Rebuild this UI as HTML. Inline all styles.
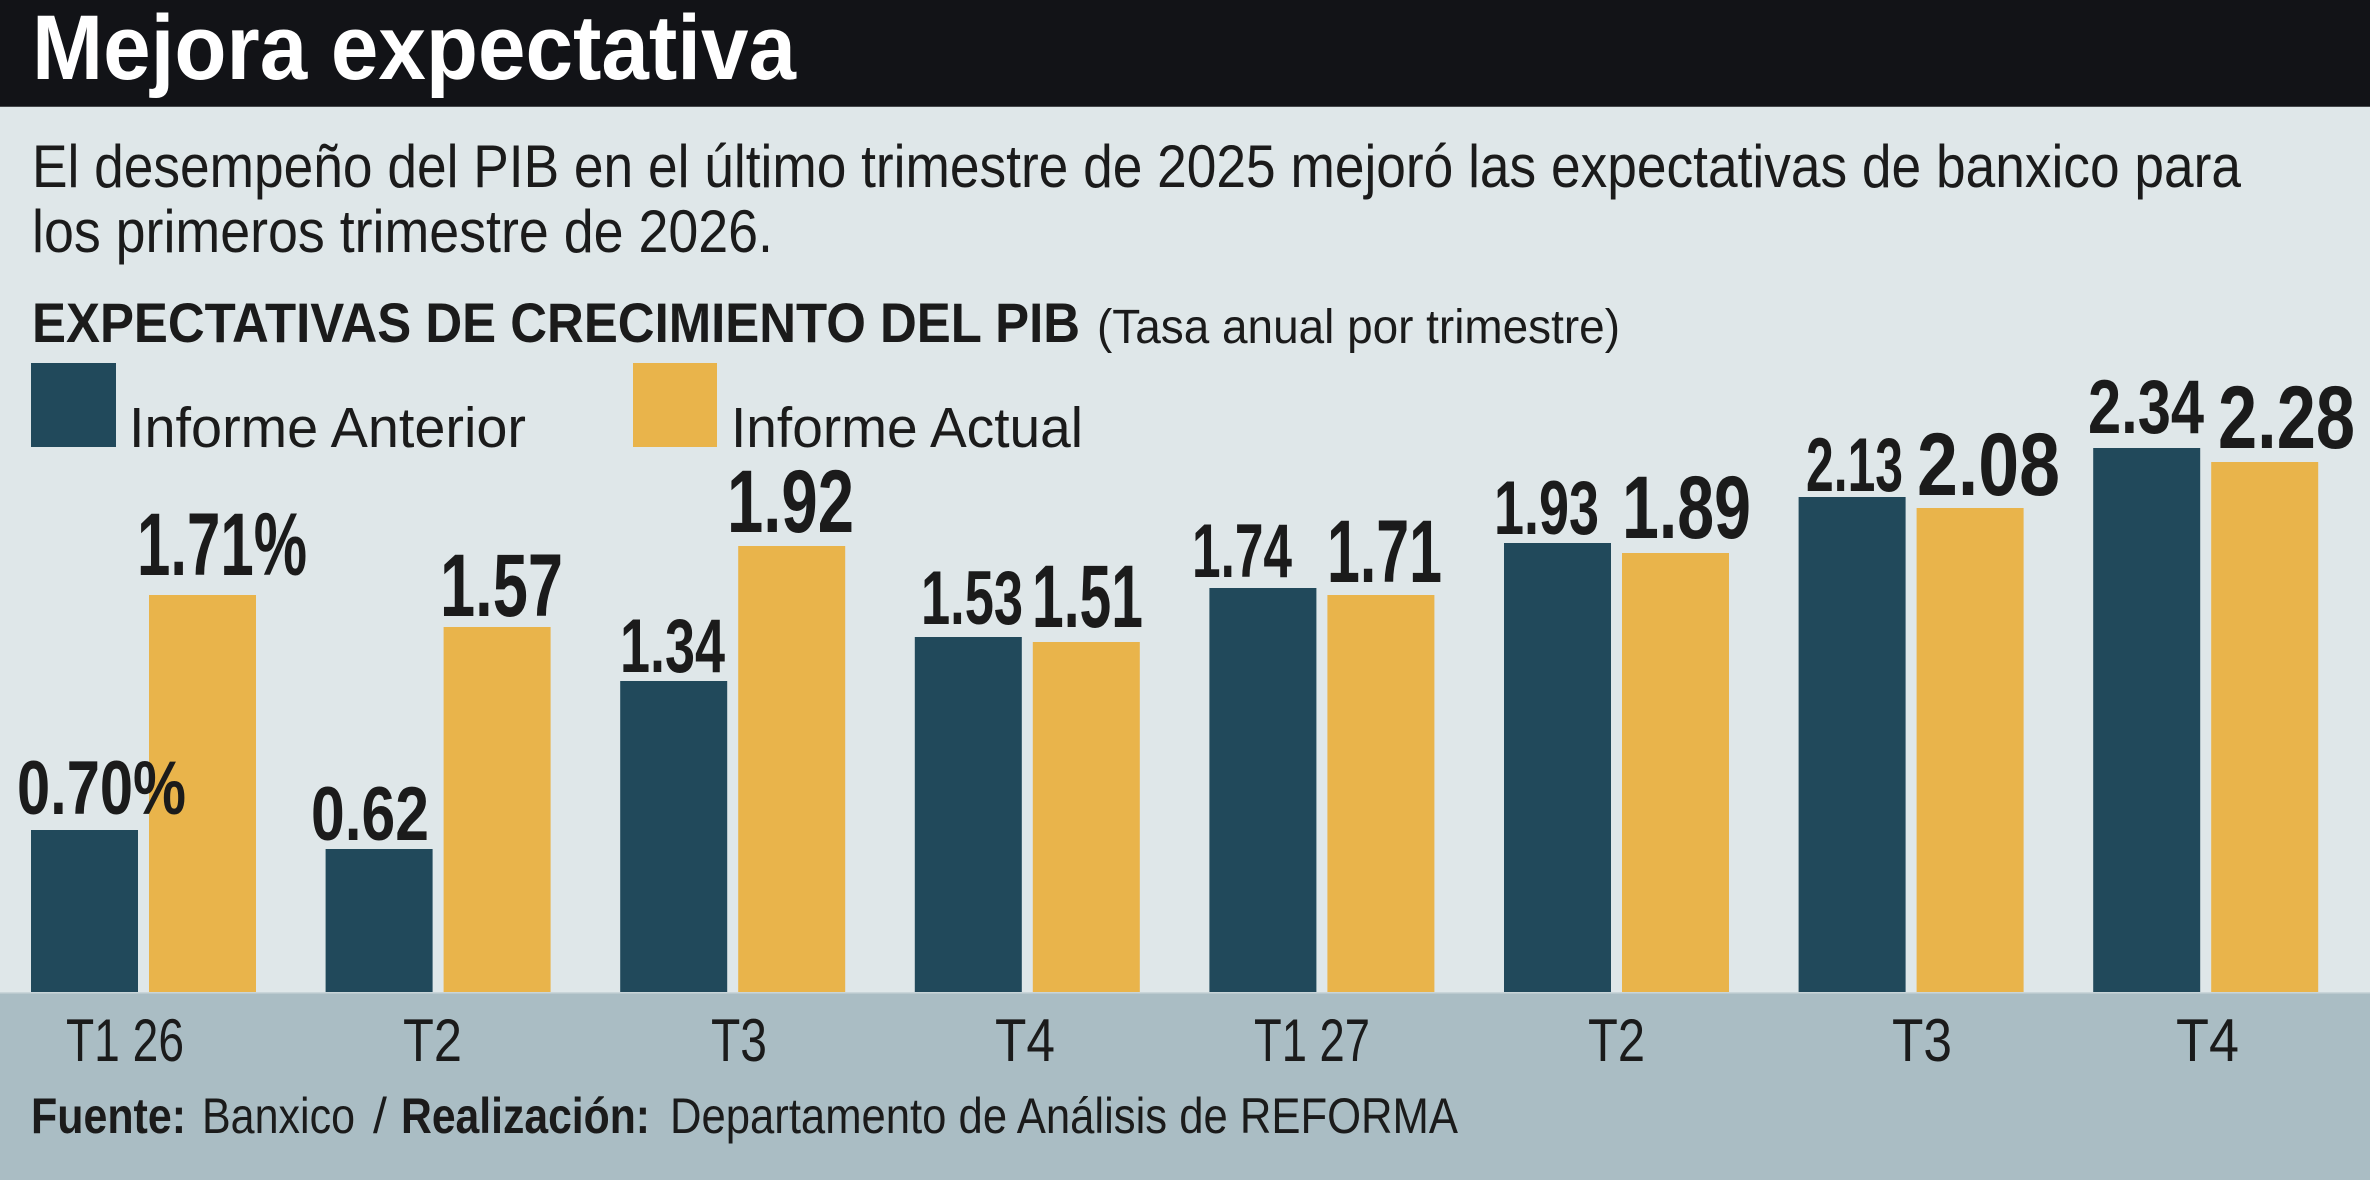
<!DOCTYPE html>
<html>
<head>
<meta charset="utf-8">
<style>
html,body{margin:0;padding:0;width:2370px;height:1180px;overflow:hidden;background:#dfe7e9}
svg{display:block}
</style>
</head>
<body>
<svg width="2370" height="1180" viewBox="0 0 2370 1180" xmlns="http://www.w3.org/2000/svg" font-family="'Liberation Sans', sans-serif">
  <!-- backgrounds -->
  <rect x="0" y="0" width="2370" height="1180" fill="#dfe7e9"/>
  <rect x="0" y="0" width="2370" height="106" fill="#121317"/>
  <rect x="0" y="106" width="2370" height="1" fill="#45484b"/>
  <rect x="0" y="993" width="2370" height="187" fill="#aabdc4"/>

  <!-- title -->
  <text x="32" y="79" font-size="92" font-weight="bold" fill="#ffffff" textLength="764" lengthAdjust="spacingAndGlyphs">Mejora expectativa</text>

  <!-- subtitle -->
  <text x="32" y="187" font-size="60" fill="#1b1b1b" textLength="2209" lengthAdjust="spacingAndGlyphs">El desempeño del PIB en el último trimestre de 2025 mejoró las expectativas de banxico para</text>
  <text x="32" y="252" font-size="60" fill="#1b1b1b" textLength="741" lengthAdjust="spacingAndGlyphs">los primeros trimestre de 2026.</text>

  <!-- heading -->
  <text x="32" y="342" font-size="56" font-weight="bold" fill="#1b1b1b" textLength="1048" lengthAdjust="spacingAndGlyphs">EXPECTATIVAS DE CRECIMIENTO DEL PIB</text>
  <text x="1097" y="343" font-size="48" fill="#1b1b1b" textLength="523" lengthAdjust="spacingAndGlyphs">(Tasa anual por trimestre)</text>

  <!-- legend -->
  <rect x="31" y="363" width="85" height="84" fill="#21495b"/>
  <text x="129" y="447" font-size="57" fill="#1b1b1b" textLength="397" lengthAdjust="spacingAndGlyphs">Informe Anterior</text>
  <rect x="633" y="363" width="84" height="84" fill="#e9b44b"/>
  <text x="731" y="447" font-size="57" fill="#1b1b1b" textLength="352" lengthAdjust="spacingAndGlyphs">Informe Actual</text>

  <!-- bars: dark -->
  <g fill="#21495b">
    <rect x="31" y="830" width="107" height="163"/>
    <rect x="325.6" y="849" width="107" height="144"/>
    <rect x="620.2" y="681" width="107" height="312"/>
    <rect x="914.8" y="637" width="107" height="356"/>
    <rect x="1209.4" y="588" width="107" height="405"/>
    <rect x="1504" y="543" width="107" height="450"/>
    <rect x="1798.6" y="497" width="107" height="496"/>
    <rect x="2093.2" y="448" width="107" height="545"/>
  </g>
  <!-- bars: yellow -->
  <g fill="#e9b44b">
    <rect x="149" y="595" width="107" height="398"/>
    <rect x="443.6" y="627" width="107" height="366"/>
    <rect x="738.2" y="546" width="107" height="447"/>
    <rect x="1032.8" y="642" width="107" height="351"/>
    <rect x="1327.4" y="595" width="107" height="398"/>
    <rect x="1622" y="553" width="107" height="440"/>
    <rect x="1916.6" y="508" width="107" height="485"/>
    <rect x="2211.2" y="462" width="107" height="531"/>
  </g>
  <rect x="0" y="992" width="2370" height="1.5" fill="#c9d5d9"/>

  <!-- dark value labels -->
  <g font-size="76" font-weight="bold" fill="#1b1b1b">
    <text x="17" y="814" textLength="169" lengthAdjust="spacingAndGlyphs">0.70%</text>
    <text x="311" y="840" textLength="118" lengthAdjust="spacingAndGlyphs">0.62</text>
    <text x="620" y="672" textLength="105" lengthAdjust="spacingAndGlyphs">1.34</text>
    <text x="921" y="624" textLength="102" lengthAdjust="spacingAndGlyphs">1.53</text>
    <text x="1192" y="577" textLength="100" lengthAdjust="spacingAndGlyphs">1.74</text>
    <text x="1494" y="534" textLength="105" lengthAdjust="spacingAndGlyphs">1.93</text>
    <text x="1806" y="491" textLength="97" lengthAdjust="spacingAndGlyphs">2.13</text>
    <text x="2088" y="433" textLength="116" lengthAdjust="spacingAndGlyphs">2.34</text>
  </g>
  <!-- yellow value labels -->
  <g font-size="89" font-weight="bold" fill="#1b1b1b">
    <text x="137" y="575" textLength="170" lengthAdjust="spacingAndGlyphs">1.71%</text>
    <text x="440" y="616" textLength="123" lengthAdjust="spacingAndGlyphs">1.57</text>
    <text x="727" y="532" textLength="127" lengthAdjust="spacingAndGlyphs">1.92</text>
    <text x="1032" y="627" textLength="111" lengthAdjust="spacingAndGlyphs">1.51</text>
    <text x="1327" y="582" textLength="115" lengthAdjust="spacingAndGlyphs">1.71</text>
    <text x="1622" y="538" textLength="129" lengthAdjust="spacingAndGlyphs">1.89</text>
    <text x="1917" y="495" textLength="143" lengthAdjust="spacingAndGlyphs">2.08</text>
    <text x="2218" y="448" textLength="137" lengthAdjust="spacingAndGlyphs">2.28</text>
  </g>

  <!-- x axis labels -->
  <g font-size="60" fill="#1b1b1b">
    <text x="66" y="1061" textLength="118" lengthAdjust="spacingAndGlyphs">T1 26</text>
    <text x="403" y="1061" textLength="59" lengthAdjust="spacingAndGlyphs">T2</text>
    <text x="711" y="1061" textLength="56" lengthAdjust="spacingAndGlyphs">T3</text>
    <text x="995" y="1061" textLength="60" lengthAdjust="spacingAndGlyphs">T4</text>
    <text x="1254" y="1061" textLength="116" lengthAdjust="spacingAndGlyphs">T1 27</text>
    <text x="1588" y="1061" textLength="57" lengthAdjust="spacingAndGlyphs">T2</text>
    <text x="1892" y="1061" textLength="60" lengthAdjust="spacingAndGlyphs">T3</text>
    <text x="2176" y="1061" textLength="63" lengthAdjust="spacingAndGlyphs">T4</text>
  </g>

  <!-- footer -->
  <g font-size="50" fill="#1b1b1b">
    <text x="31" y="1133" font-weight="bold" textLength="155" lengthAdjust="spacingAndGlyphs">Fuente:</text>
    <text x="202" y="1133" textLength="153" lengthAdjust="spacingAndGlyphs">Banxico</text>
    <text x="373" y="1133">/</text>
    <text x="401" y="1133" font-weight="bold" textLength="249" lengthAdjust="spacingAndGlyphs">Realización:</text>
    <text x="670" y="1133" textLength="788" lengthAdjust="spacingAndGlyphs">Departamento de Análisis de REFORMA</text>
  </g>
</svg>
</body>
</html>
